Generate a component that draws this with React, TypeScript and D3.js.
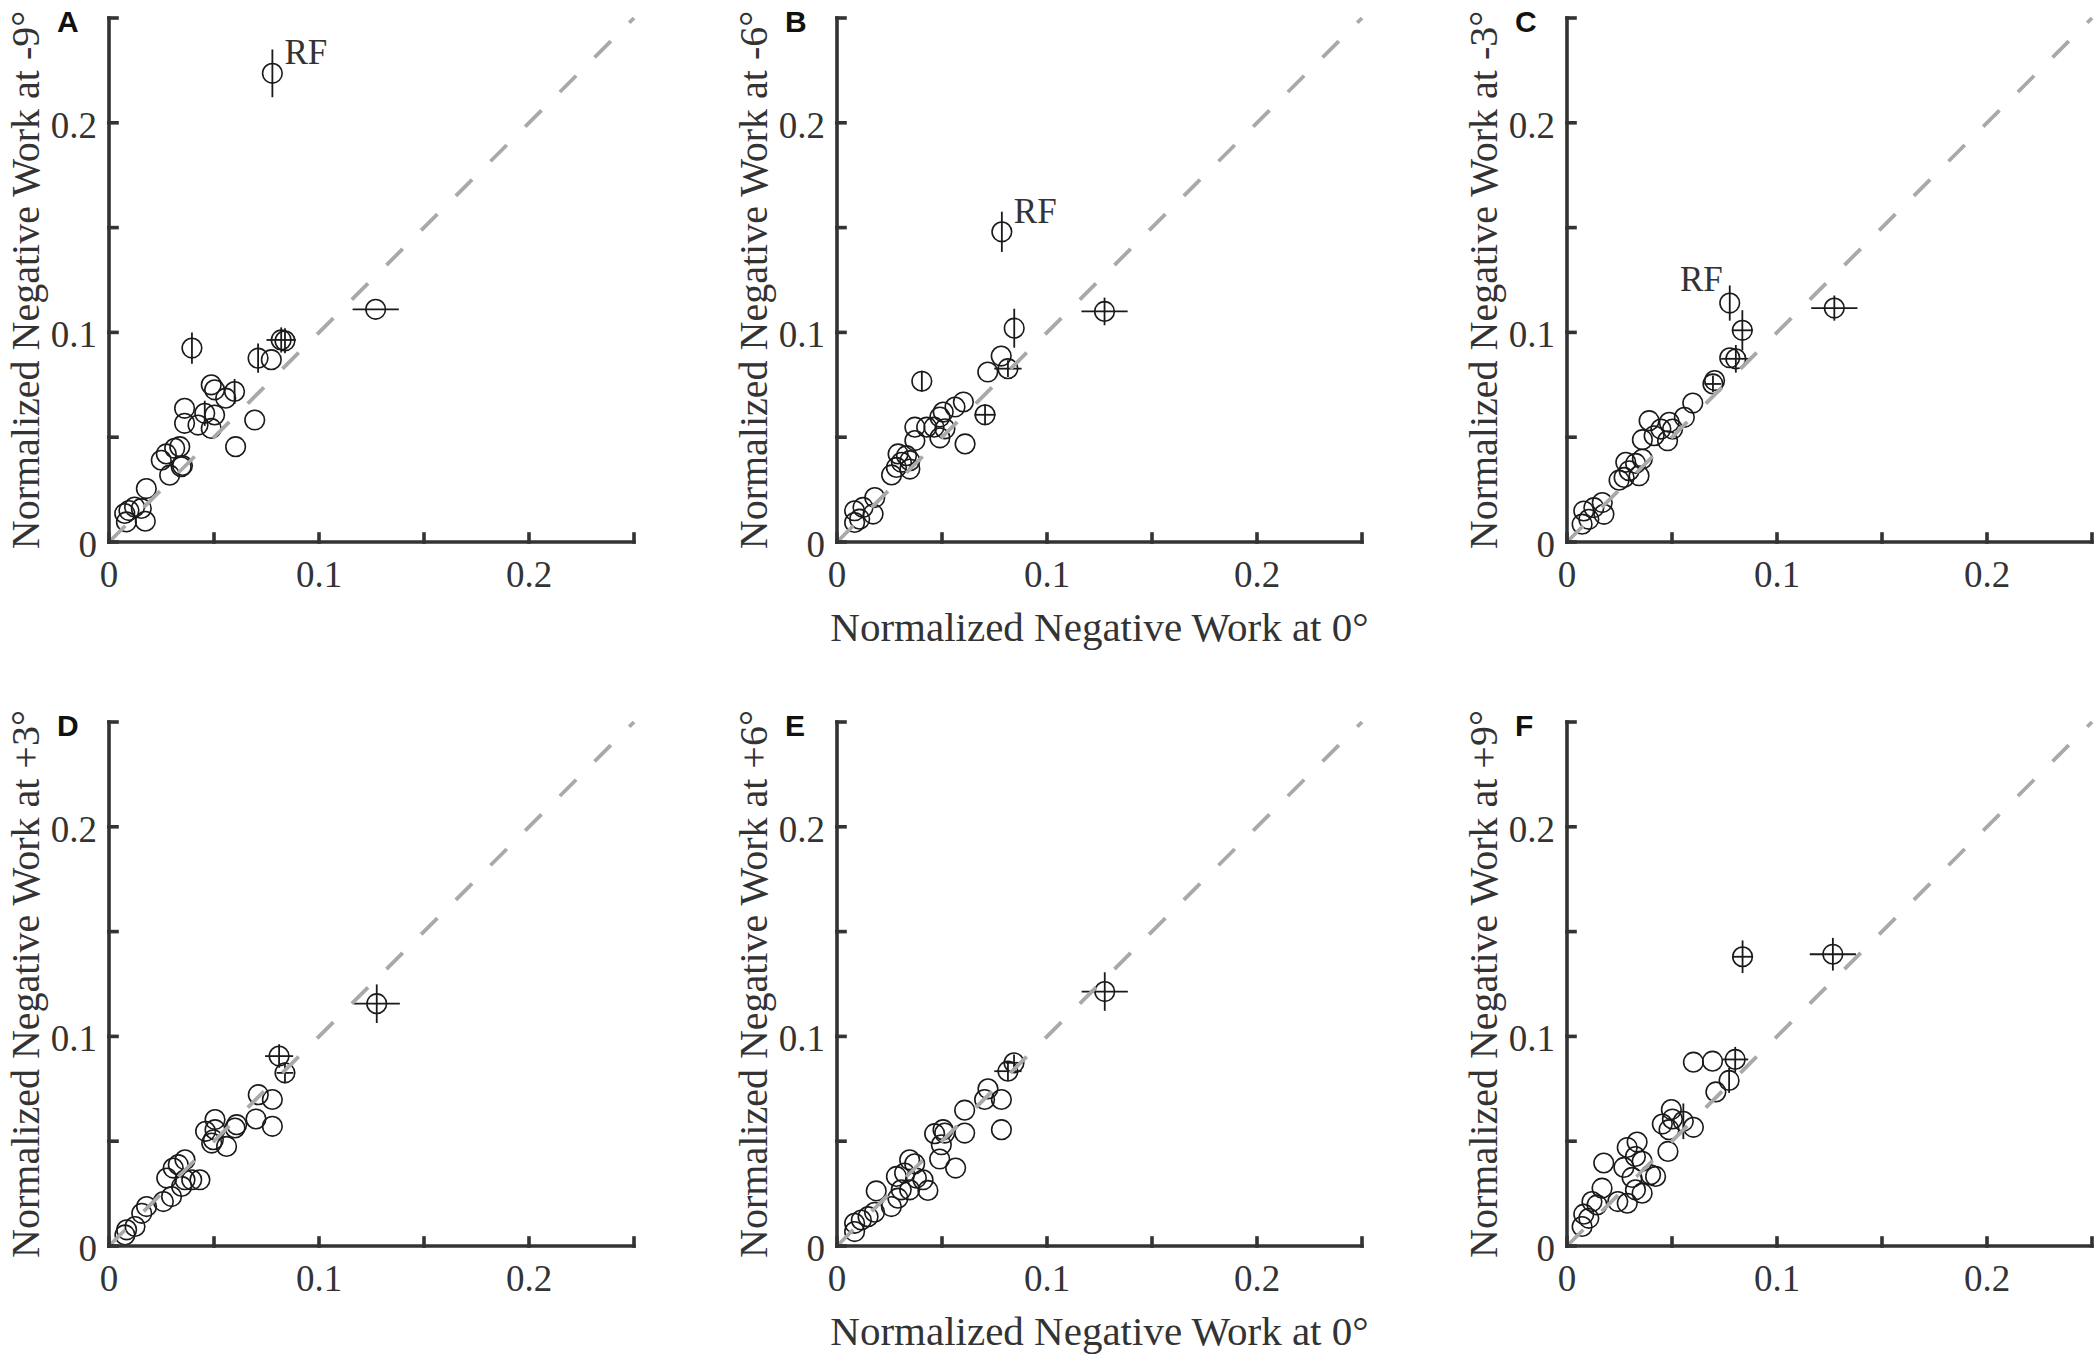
import React from 'react';
import * as d3 from 'd3';

// tick values shared by both axes, labels only on every other tick
const tickValues = [0, 0.05, 0.1, 0.15, 0.2, 0.25];
const tickLabels = ['0', '', '0.1', '', '0.2', ''];
const panelLetters = ['A', 'B', 'C', 'D', 'E', 'F'];
const angleLabels = ['-9°', '-6°', '-3°', '+3°', '+6°', '+9°'];

// plain circles: [work at 0°, work at tilt]
const pointsA: [number, number][] = [
  [0.0083, 0.0096], [0.0075, 0.0136], [0.0095, 0.015], [0.0122, 0.0167], [0.0154, 0.016],
  [0.0173, 0.0099], [0.0178, 0.0255], [0.0249, 0.039], [0.0273, 0.042], [0.0313, 0.0447],
  [0.0337, 0.0455], [0.0289, 0.0319], [0.0344, 0.0359], [0.035, 0.0365], [0.036, 0.0638],
  [0.036, 0.0566], [0.0424, 0.0558], [0.0503, 0.0606], [0.0487, 0.0542], [0.0487, 0.075],
  [0.0503, 0.0726], [0.0556, 0.0686], [0.0603, 0.0455], [0.0694, 0.0582], [0.0773, 0.087],
];
const pointsB: [number, number][] = [
  [0.0782, 0.0887], [0.0718, 0.0811], [0.0602, 0.0668], [0.0562, 0.0644], [0.0506, 0.062],
  [0.049, 0.0596], [0.0514, 0.054], [0.0462, 0.0548], [0.0427, 0.0548], [0.049, 0.0497],
  [0.061, 0.0468], [0.0371, 0.0548], [0.0371, 0.0484], [0.0291, 0.042], [0.0331, 0.0412],
  [0.0307, 0.038], [0.0347, 0.0388], [0.0347, 0.0348], [0.0283, 0.0356], [0.026, 0.032],
  [0.018, 0.0212], [0.0172, 0.0133], [0.0124, 0.0165], [0.0084, 0.0149], [0.0084, 0.0093],
  [0.0108, 0.0109],
];
const pointsC: [number, number][] = [
  [0.0775, 0.0879], [0.0703, 0.077], [0.0599, 0.0663], [0.0559, 0.0595], [0.0487, 0.0571],
  [0.0391, 0.0579], [0.0447, 0.0539], [0.0503, 0.0539], [0.0415, 0.0507], [0.0479, 0.0483],
  [0.0359, 0.0488], [0.0359, 0.0396], [0.028, 0.038], [0.0327, 0.0375], [0.0296, 0.034],
  [0.0343, 0.0316], [0.0272, 0.0308], [0.0248, 0.0295], [0.0168, 0.0188], [0.0176, 0.0132],
  [0.0128, 0.0164], [0.008, 0.0148], [0.0072, 0.0085], [0.0104, 0.0108],
];
const pointsD: [number, number][] = [
  [0.0711, 0.0722], [0.0778, 0.0699], [0.07, 0.0606], [0.0778, 0.0571], [0.0505, 0.0603],
  [0.0608, 0.0579], [0.06, 0.0563], [0.0505, 0.0555], [0.046, 0.0547], [0.0497, 0.0507],
  [0.0489, 0.0491], [0.056, 0.0475], [0.0362, 0.0411], [0.033, 0.0388], [0.0306, 0.0372],
  [0.0275, 0.0324], [0.0362, 0.0316], [0.0394, 0.0316], [0.0433, 0.0316], [0.0346, 0.0284],
  [0.0298, 0.0236], [0.0259, 0.0212], [0.0179, 0.0188], [0.0156, 0.0156], [0.0124, 0.0093],
  [0.0084, 0.0077], [0.0076, 0.0053],
];
const pointsE: [number, number][] = [
  [0.0719, 0.075], [0.0703, 0.0699], [0.0783, 0.0699], [0.0608, 0.0648], [0.0783, 0.0555],
  [0.0505, 0.0555], [0.0513, 0.0539], [0.0465, 0.0536], [0.0608, 0.0539], [0.0497, 0.0483],
  [0.0489, 0.0415], [0.0565, 0.0372], [0.0346, 0.0411], [0.037, 0.0392], [0.0322, 0.0348],
  [0.0283, 0.0332], [0.0378, 0.0324], [0.041, 0.0316], [0.0433, 0.0265], [0.0346, 0.0268],
  [0.0306, 0.0268], [0.029, 0.0228], [0.0259, 0.0188], [0.0187, 0.0263], [0.0179, 0.0161],
  [0.0148, 0.014], [0.0116, 0.0124], [0.0084, 0.0108], [0.0084, 0.0069],
];
const pointsF: [number, number][] = [
  [0.0602, 0.0877], [0.0693, 0.0882], [0.0709, 0.0735], [0.0497, 0.0651], [0.0502, 0.0606],
  [0.0454, 0.0582], [0.0602, 0.0566], [0.0486, 0.0555], [0.0481, 0.0451], [0.0334, 0.0496],
  [0.0287, 0.047], [0.0326, 0.0427], [0.0358, 0.0404], [0.0175, 0.0396], [0.0271, 0.0375],
  [0.031, 0.0327], [0.0398, 0.034], [0.0422, 0.0332], [0.0358, 0.0252], [0.0326, 0.0268],
  [0.0167, 0.0276], [0.0242, 0.0212], [0.0287, 0.0204], [0.0119, 0.0212], [0.0143, 0.0196],
  [0.008, 0.0152], [0.0104, 0.0132], [0.0072, 0.0093],
];

// circles with error bars: [x, y, xErr, yErr]
const barsA: [number, number, number, number][] = [
  [0.0456, 0.0614, 0, 0.006], [0.0598, 0.0718, 0, 0.006], [0.071, 0.0877, 0, 0.007],
  [0.0395, 0.0925, 0, 0.0075], [0.082, 0.0964, 0.007, 0.006], [0.0838, 0.096, 0, 0.006],
  [0.127, 0.111, 0.011, 0], [0.0778, 0.2236, 0, 0.0114],
];
const barsB: [number, number, number, number][] = [
  [0.0785, 0.148, 0, 0.0096], [0.1274, 0.11, 0.011, 0.0066], [0.0844, 0.102, 0, 0.0093],
  [0.0814, 0.0827, 0.0065, 0.004], [0.0404, 0.0767, 0, 0.005], [0.0705, 0.0607, 0.005, 0.005],
];
const barsC: [number, number, number, number][] = [
  [0.0775, 0.114, 0, 0.0084], [0.0835, 0.101, 0.005, 0.0096], [0.0804, 0.0874, 0.007, 0.0066],
  [0.0695, 0.0754, 0.004, 0.004], [0.1273, 0.1116, 0.011, 0.006],
];
const barsD: [number, number, number, number][] = [
  [0.1275, 0.1156, 0.011, 0.0092], [0.081, 0.0906, 0.0067, 0.0056], [0.0838, 0.0826, 0.004, 0.005],
];
const barsE: [number, number, number, number][] = [
  [0.1275, 0.1214, 0.011, 0.0092], [0.0843, 0.0874, 0.004, 0.004], [0.0814, 0.0834, 0.0065, 0.0045],
];
const barsF: [number, number, number, number][] = [
  [0.1266, 0.1392, 0.011, 0.0078], [0.0836, 0.138, 0.005, 0.0078], [0.0801, 0.089, 0.0062, 0.006],
  [0.0772, 0.079, 0, 0.006], [0.0554, 0.0595, 0, 0.0085],
];

// RF point that gets a text label (panels A-C)
const rfPoints: ([number, number] | null)[] = [
  [0.0778, 0.2236], [0.0785, 0.148], [0.0775, 0.114], null, null, null,
];

const allPoints = [pointsA, pointsB, pointsC, pointsD, pointsE, pointsF];
const allBars = [barsA, barsB, barsC, barsD, barsE, barsF];

const W = 2096;
const H = 1356;
const plotW = 525;
const plotH = 524;
const lefts = [109, 837, 1567];
const tops = [18, 722];
const serif = '"Liberation Serif", "Times New Roman", serif';
const ink = '#333';
const mark = '#1a1a1a';

const Panel: React.FC<{ i: number }> = ({ i }) => {
  const left = lefts[i % 3];
  const top = tops[Math.floor(i / 3)];
  const bottom = top + plotH;

  const x = d3.scaleLinear().domain([0, 0.25]).range([left, left + plotW]);
  const y = d3.scaleLinear().domain([0, 0.25]).range([bottom, top]);

  const rf = rfPoints[i];
  // label sits to the right of the point in A/B, to the left in C
  const rfLeft = i === 2;

  return (
    <g>
      {/* circles */}
      {allPoints[i].map(([px, py], k) => (
        <circle key={'p' + k} cx={x(px)} cy={y(py)} r={9.8}
          fill="none" stroke={mark} strokeWidth={1.6} />
      ))}
      {allBars[i].map(([px, py, ex, ey], k) => (
        <g key={'b' + k} stroke={mark} strokeWidth={1.8}>
          <circle cx={x(px)} cy={y(py)} r={9.8} fill="none" strokeWidth={1.6} />
          {ex > 0 && <line x1={x(px - ex)} x2={x(px + ex)} y1={y(py)} y2={y(py)} />}
          {ey > 0 && <line x1={x(px)} x2={x(px)} y1={y(py - ey)} y2={y(py + ey)} />}
        </g>
      ))}

      {/* unity line */}
      <line x1={x(0)} y1={y(0)} x2={x(0.25)} y2={y(0.25)}
        stroke="#a9a9a9" strokeWidth={3.8} strokeDasharray="23 26" />

      {rf && (
        <text
          x={rfLeft ? x(rf[0]) - 7 : x(rf[0]) + 12}
          y={y(rf[1]) - (rfLeft ? 12 : 9)}
          textAnchor={rfLeft ? 'end' : 'start'}
          fontFamily={serif} fontSize={35} fill={ink}
        >RF</text>
      )}

      {/* axes */}
      <g stroke={ink} strokeWidth={3.6} strokeLinecap="square">
        <line x1={left} x2={left} y1={top} y2={bottom} />
        <line x1={left} x2={left + plotW} y1={bottom} y2={bottom} />
        {tickValues.map((t) => (
          <React.Fragment key={'t' + t}>
            <line x1={x(t)} x2={x(t)} y1={bottom} y2={bottom - 8} />
            <line x1={left} x2={left + 8} y1={y(t)} y2={y(t)} />
          </React.Fragment>
        ))}
      </g>
      {tickValues.map((t, k) => tickLabels[k] && (
        <React.Fragment key={'l' + t}>
          <text x={x(t)} y={bottom + 45} textAnchor="middle"
            fontFamily={serif} fontSize={37} fill={ink}>{tickLabels[k]}</text>
          <text x={left - 12} y={y(t)} dy="0.4em" textAnchor="end"
            fontFamily={serif} fontSize={37} fill={ink}>{tickLabels[k]}</text>
        </React.Fragment>
      ))}

      {/* axis titles */}
      <text transform={`translate(${left - 70},${top + plotH / 2}) rotate(-90)`}
        textAnchor="middle" fontFamily={serif} fontSize={40} fill={ink}>
        {`Normalized Negative Work at ${angleLabels[i]}`}
      </text>
      {i % 3 === 1 && (
        <text x={left + plotW / 2} y={bottom + 99} textAnchor="middle"
          fontFamily={serif} fontSize={41} fill={ink}>
          Normalized Negative Work at 0°
        </text>
      )}

      <text x={left - 52} y={top + 14} fontFamily='"Liberation Sans", Arial, sans-serif'
        fontWeight="bold" fontSize={30} fill="#111">{panelLetters[i]}</text>
    </g>
  );
};

const App: React.FC = () => (
  <svg width={W} height={H} viewBox={`0 0 ${W} ${H}`}
    style={{ position: 'absolute', left: 0, top: 0, background: '#fff' }}>
    <rect width={W} height={H} fill="#fff" />
    {panelLetters.map((_, i) => <Panel key={i} i={i} />)}
  </svg>
);

export default App;
